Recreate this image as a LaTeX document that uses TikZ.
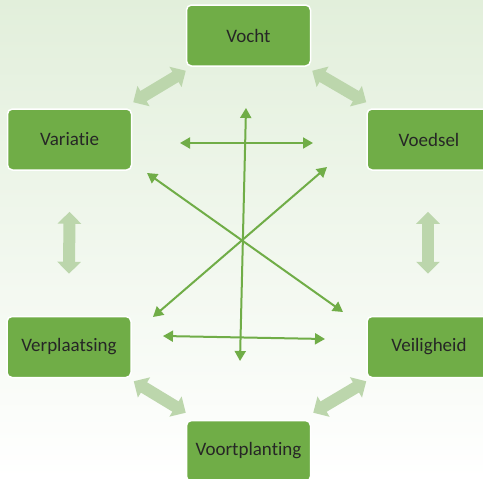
\documentclass[tikz,border=0pt]{standalone}
\usepackage{fontspec}
\setmainfont{Carlito}[Ligatures={NoCommon}]
\usetikzlibrary{arrows.meta}
\definecolor{boxgreen}{RGB}{112,173,71}
\definecolor{softgreen}{RGB}{188,214,172}
\definecolor{bgtop}{RGB}{226,239,219}
\definecolor{labelgray}{RGB}{38,38,38}
\tikzset{
  topic/.style={draw=white, line width=1.5pt, fill=boxgreen, rounded corners=5pt,
    minimum width=124pt, minimum height=61pt, inner sep=0pt,
    text=labelgray, font=\fontsize{19}{21}\selectfont},
  link/.style={draw=softgreen, line width=12pt,
    {Triangle[width=23pt,length=12pt]}-{Triangle[width=23pt,length=12pt]}},
  cross/.style={draw=boxgreen, line width=2pt,
    {Triangle[width=11pt,length=10pt]}-{Triangle[width=11pt,length=10pt]}}
}
\begin{document}
\begin{tikzpicture}[x=1pt,y=-1pt]
  % background: light green fading to white
  \useasboundingbox (0,0) rectangle (483,479);
  \clip (0,0) rectangle (483,479);
  \shade[top color=bgtop, bottom color=white] (0,0) rectangle (483,479);

  % the six topics
  \node[topic] (vocht) at (248.5,35.5) {Vocht};
  \node[topic] (variatie) at (69.5,139.5) {Variatie};
  \node[topic] (voedsel) at (429,139.5) {Voedsel};
  \node[topic] (verplaatsing) at (69,347) {Verplaatsing};
  \node[topic] (veiligheid) at (429,347) {Veiligheid};
  \node[topic] (voortplanting) at (248.5,451) {Voortplanting};

  % pale links around the ring
  \draw[link] ([shift={(1,-6)}]variatie.north east) -- ([shift={(0,4)}]vocht.south west);
  \draw[link] ([shift={(1,4)}]vocht.south east) -- ([shift={(0,-6)}]voedsel.north west);
  \draw[link] ([shift={(0,41)}]variatie.south) -- ([shift={(0,-42)}]verplaatsing.north);
  \draw[link] ([shift={(-1,41)}]voedsel.south) -- ([shift={(-1,-42)}]veiligheid.north);
  \draw[link] ([shift={(2,3)}]verplaatsing.south east) -- ([shift={(0,-7)}]voortplanting.north west);
  \draw[link] ([shift={(2,-7)}]voortplanting.north east) -- ([shift={(0,3)}]veiligheid.south west);

  % crossing arrows in the middle
  \coordinate (hta) at (180,143);
  \coordinate (htb) at (313,143);
  \coordinate (vta) at (246,108);
  \coordinate (vtb) at (240,361);
  \coordinate (dla) at (147,173);
  \coordinate (dlb) at (343,312);
  \coordinate (dra) at (327,167);
  \coordinate (drb) at (153,317);
  \coordinate (hba) at (163,336);
  \coordinate (hbb) at (325,339);
  \draw[cross] (hta) -- (htb);
  \draw[cross] (vta) -- (vtb);
  \draw[cross] (dla) -- (dlb);
  \draw[cross] (dra) -- (drb);
  \draw[cross] (hba) -- (hbb);
\end{tikzpicture}
\end{document}
